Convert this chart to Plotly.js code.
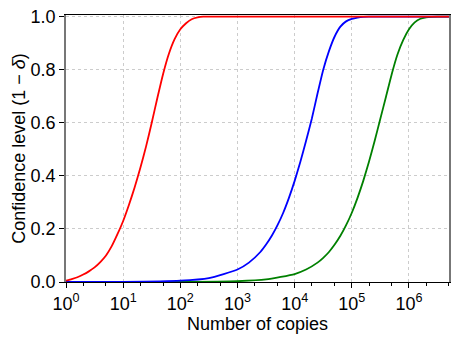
<!DOCTYPE html>
<html>
<head>
<meta charset="utf-8">
<script src="https://cdn.plot.ly/plotly-3.0.1.min.js"></script>
<style>
  html, body { margin: 0; padding: 0; background: #fff; }
  #chart { width: 460px; height: 345px; }
</style>
</head>
<body>
<div id="chart"></div>
<script>
// values
const redCopies = [1, 1.26, 1.58, 2, 2.51, 3.16, 3.98, 5.01, 6.31, 7.94, 10, 12.6, 15.8, 20, 25.1, 31.6, 39.8, 50.1, 63.1, 79.4, 100, 126, 158, 200, 251, 316, 5e6];
const redConf = [0.005, 0.011, 0.018, 0.028, 0.040, 0.055, 0.075, 0.100, 0.135, 0.180, 0.230, 0.290, 0.355, 0.430, 0.510, 0.600, 0.695, 0.785, 0.860, 0.915, 0.952, 0.975, 0.990, 0.997, 1.0, 1.0, 1.0];

const blueCopies = [1, 10, 100, 316, 1000, 1585, 2512, 3162, 3981, 5012, 6310, 7943, 10000, 12590, 15850, 19950, 25120, 31620, 39810, 50120, 63100, 79430, 100000, 125900, 158500, 199500, 5e6];
const blueConf = [0, 0.0005, 0.005, 0.015, 0.047, 0.073, 0.113, 0.141, 0.174, 0.214, 0.261, 0.317, 0.381, 0.453, 0.532, 0.615, 0.710, 0.800, 0.870, 0.925, 0.962, 0.982, 0.991, 0.996, 0.999, 1.0, 1.0];

const greenCopies = [1, 100, 1000, 3162, 10000, 15850, 25120, 31620, 39810, 50120, 63100, 79430, 100000, 125900, 158500, 199500, 251200, 316200, 398100, 501200, 631000, 794300, 1000000, 1259000, 1585000, 1995000, 2512000, 3162000, 5e6];
const greenConf = [0, 0.0003, 0.003, 0.0095, 0.030, 0.047, 0.073, 0.091, 0.113, 0.141, 0.174, 0.214, 0.261, 0.317, 0.381, 0.453, 0.532, 0.616, 0.700, 0.785, 0.858, 0.912, 0.952, 0.978, 0.992, 0.997, 0.999, 1.0, 1.0];

const xTickVals = [1, 10, 100, 1000, 10000, 100000, 1000000];
const xTickText = ['10<sup>0</sup>', '10<sup>1</sup>', '10<sup>2</sup>', '10<sup>3</sup>', '10<sup>4</sup>', '10<sup>5</sup>', '10<sup>6</sup>'];
const yTickVals = [0, 0.2, 0.4, 0.6, 0.8, 1.0];

function curve(x, y, color) {
  return {
    x, y,
    type: 'scatter',
    mode: 'lines',
    line: { color, width: 1.8, shape: 'spline', smoothing: 0.5 },
    hoverinfo: 'skip',
  };
}

const traces = [
  curve(greenCopies, greenConf, '#008000'),
  curve(blueCopies, blueConf, '#0000ff'),
  curve(redCopies, redConf, '#ff0000'),
];

const font = { family: 'Liberation Sans, Arial, sans-serif', size: 18, color: '#000' };

const layout = {
  width: 460,
  height: 345,
  margin: { l: 66, r: 11, t: 15, b: 63 },
  paper_bgcolor: '#fff',
  plot_bgcolor: '#fff',
  showlegend: false,
  font,
  xaxis: {
    type: 'log',
    range: [0, 6.7],
    tickvals: xTickVals,
    ticktext: xTickText,
    ticks: 'outside',
    ticklen: 5,
    tickcolor: '#000',
    showgrid: true,
    gridcolor: '#cccccc',
    griddash: 'dot',
    showline: true,
    linecolor: '#000',
    linewidth: 1,
    mirror: true,
    zeroline: false,
    tickfont: font,
    minor: { ticks: 'outside', ticklen: 3, tickcolor: '#000', showgrid: false },
    title: { text: 'Number of copies', font, standoff: 4 },
  },
  yaxis: {
    range: [0, 1.006],
    tickvals: yTickVals,
    tickformat: '.1f',
    ticks: 'outside',
    ticklen: 5,
    tickcolor: '#000',
    showgrid: true,
    gridcolor: '#cccccc',
    griddash: 'dot',
    showline: true,
    linecolor: '#777',
    linewidth: 1.8,
    mirror: true,
    zeroline: false,
    tickfont: font,
    title: { text: 'Confidence level (1 − <i>δ</i>)', font, standoff: 0 },
  },
};

Plotly.newPlot('chart', traces, layout, { staticPlot: true, displayModeBar: false });
</script>
</body>
</html>
